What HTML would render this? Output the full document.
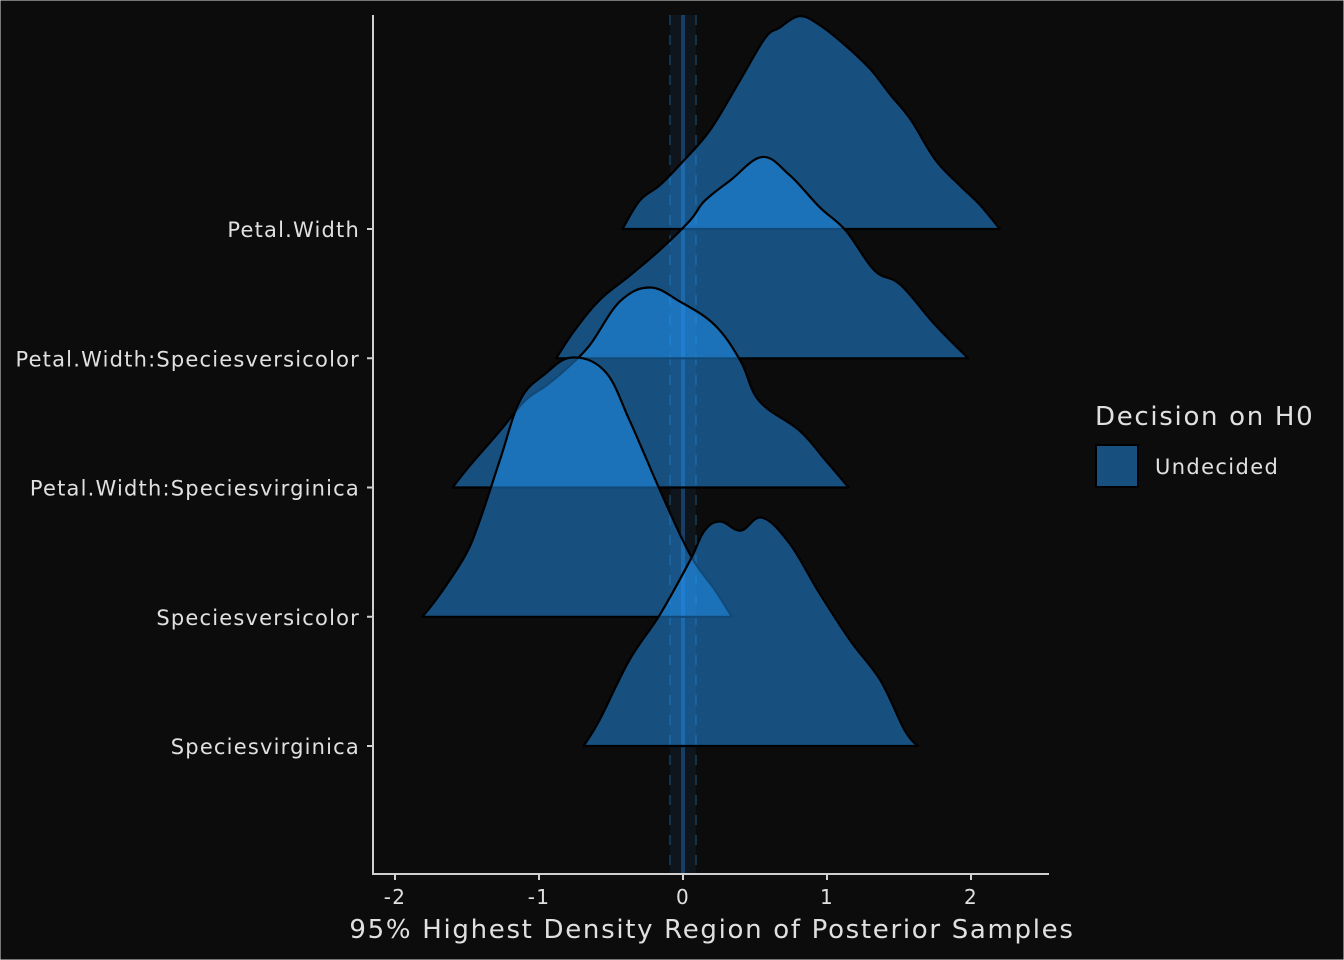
<!DOCTYPE html>
<html><head><meta charset="utf-8"><style>
html,body{margin:0;padding:0;background:#0c0c0c;}
svg{display:block;font-family:"DejaVu Sans","Liberation Sans",sans-serif;}
svg text{letter-spacing:0.065em;}
svg text.ylab{letter-spacing:0.057em;}
</style></head><body>
<svg id="chart" width="1344" height="960" viewBox="0 0 1344 960">
<rect x="0" y="0" width="1344" height="960" fill="#0c0c0c" stroke="#e0e0e0" stroke-width="1"/>
<g id="plot"></g>
<g id="axes"></g>
<text x="712" y="938" fill="#e0e0e0" font-size="26" text-anchor="middle">95% Highest Density Region of Posterior Samples</text>
<g>
<text x="1095" y="425" fill="#e0e0e0" font-size="26">Decision on H0</text>
<rect x="1096" y="445" width="42" height="42" fill="#17507f" stroke="#000" stroke-width="2"/>
<text x="1155" y="474" fill="#e0e0e0" font-size="21">Undecided</text>
</g>
</svg>
<script>
const categories = ["Petal.Width","Petal.Width:Speciesversicolor","Petal.Width:Speciesvirginica","Speciesversicolor","Speciesvirginica"];
const xTicks = [-2,-1,0,1,2];
const xTickLabels = ["-2","-1","0","1","2"];
const ropeLow = -0.09, ropeHigh = 0.09;
const xs0 = [-0.42,-0.3,-0.16,-0.02,0.19,0.4,0.57,0.67,0.81,0.95,1.12,1.30,1.44,1.58,1.75,1.92,2.06,2.2];
const hs0 = [0,.22,.34,.50,.77,1.16,1.48,1.56,1.65,1.58,1.43,1.24,1.04,.85,.54,.34,.19,0];
const xs1 = [-0.88,-0.75,-0.58,-0.37,-0.16,0.05,0.15,0.33,0.55,0.74,0.95,1.13,1.33,1.51,1.75,1.98];
const hs1 = [0,.22,.45,.64,.84,1.07,1.22,1.38,1.56,1.42,1.17,.99,.68,.57,.26,0];
const xs2 = [-1.6,-1.48,-1.27,-1.10,-0.95,-0.82,-0.65,-0.44,-0.23,-0.02,0.22,0.40,0.53,0.81,0.99,1.15];
const hs2 = [0,.17,.44,.67,.79,.91,1.10,1.44,1.55,1.44,1.26,.98,.67,.44,.21,0];
const xs3 = [-1.81,-1.69,-1.51,-1.41,-1.27,-1.13,-0.96,-0.77,-0.54,-0.37,-0.16,0.05,0.22,0.34];
const hs3 = [0,.17,.48,.75,1.22,1.68,1.88,2.01,1.9,1.52,0.98,.48,.21,0];
const xs4 = [-0.69,-0.58,-0.37,-0.16,0.05,0.15,0.26,0.4,0.55,0.74,0.95,1.16,1.37,1.54,1.63];
const hs4 = [0,.2,.67,1.02,1.44,1.67,1.74,1.67,1.77,1.57,1.18,.82,.51,.12,0];
const ridgeXs = [xs0,xs1,xs2,xs3,xs4];
const ridgeHs = [hs0,hs1,hs2,hs3,hs4];

const NS="http://www.w3.org/2000/svg";
const X = v => 683 + v*144;
const rowY = i => 229 + i*129.25;
const H = h => h*129;
function mk(tag, attrs, parent){const e=document.createElementNS(NS,tag);for(const k in attrs)e.setAttribute(k,attrs[k]);parent.appendChild(e);return e;}
const plot=document.getElementById('plot'), axes=document.getElementById('axes');

let band=mk('rect',{x:X(ropeLow),y:15,width:X(ropeHigh)-X(ropeLow),height:858,fill:'#0f151c'},plot);


let zl=mk('line',{x1:X(0),x2:X(0),y1:15,y2:873,stroke:'#173f66','stroke-width':4},plot);


[ropeLow,ropeHigh].forEach(v=>{
  let l=mk('line',{x1:X(v),x2:X(v),y1:15,y2:873,stroke:'#13344f','stroke-width':2,'stroke-dasharray':'10,10'},plot);
  
  
});

ridgeXs.forEach((xs,i)=>{
  const hs=ridgeHs[i], b=rowY(i);
  const pts=xs.map((x,j)=>[X(x),b-H(hs[j])]);
  let d='M'+pts[0][0].toFixed(1)+','+pts[0][1].toFixed(1);
  const t=0.18;
  for(let j=0;j<pts.length-1;j++){
    const p0=pts[Math.max(0,j-1)],p1=pts[j],p2=pts[j+1],p3=pts[Math.min(pts.length-1,j+2)];
    const c1=[p1[0]+(p2[0]-p0[0])*t,p1[1]+(p2[1]-p0[1])*t];
    const c2=[p2[0]-(p3[0]-p1[0])*t,p2[1]-(p3[1]-p1[1])*t];
    d+=' C'+c1[0].toFixed(1)+','+c1[1].toFixed(1)+' '+c2[0].toFixed(1)+','+c2[1].toFixed(1)+' '+p2[0].toFixed(1)+','+p2[1].toFixed(1);
  }
  d+=' Z';
  let p=mk('path',{d:d,fill:'#2294f2','fill-opacity':0.5,stroke:'#000','stroke-width':2.2,'stroke-linejoin':'round'},plot);
  
  
});

let ya=mk('line',{x1:373,x2:373,y1:15,y2:874,stroke:'#d0d0d0','stroke-width':2},axes);


let xa=mk('line',{x1:372,x2:1049,y1:874,y2:874,stroke:'#d0d0d0','stroke-width':2},axes);


categories.forEach((c,i)=>{
  const y=rowY(i);
  let t=mk('line',{x1:367,x2:373,y1:y,y2:y,stroke:'#d0d0d0','stroke-width':2},axes);
  
  
  let tx=mk('text',{x:360,y:y+8,fill:'#e0e0e0','font-size':21,'text-anchor':'end','class':'ylab'},axes);
  tx.textContent=c;
  
  
});
xTicks.forEach((v,i)=>{
  let t=mk('line',{x1:X(v),x2:X(v),y1:874,y2:880,stroke:'#d0d0d0','stroke-width':2},axes);
  
  
  let tx=mk('text',{x:X(v),y:904,fill:'#e0e0e0','font-size':20,'text-anchor':'middle'},axes);
  tx.textContent=xTickLabels[i];
  
  
});
</script>
</body></html>
